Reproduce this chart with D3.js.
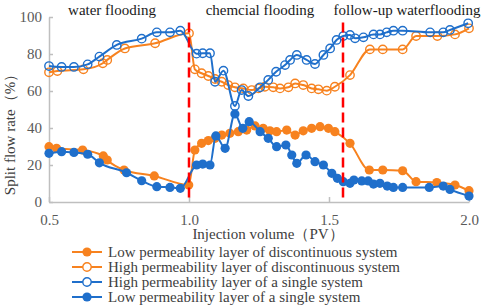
<!DOCTYPE html>
<html><head><meta charset="utf-8">
<script src="https://cdn.jsdelivr.net/npm/d3@7"></script>
<style>body{margin:0;background:#fff}svg{display:block}</style>
</head><body><svg id="c" width="484" height="308"></svg>
<script>
const xTicks=[0.5,1.0,1.5,2.0];
const yTicks=[0,20,40,60,80,100];
const stageLabels=["water flooding","chemcial flooding","follow-up waterflooding"];
const stageBounds=[1.0,1.55];
const seriesNames=["Low permeability layer of discontinuous system","High permeability layer of discontinuous system","High permeability layer of a single system","Low permeability layer of a single system"];

const lowDiscX=[0.5,0.527,0.62,0.694,0.708,0.768,0.876,0.999,1.021,1.045,1.069,1.093,1.117,1.146,1.176,1.206,1.236,1.265,1.289,1.313,1.349,1.379,1.408,1.438,1.468,1.498,1.521,1.575,1.644,1.692,1.763,1.811,1.885,1.95,2.0];
const lowDiscY=[29.9,29,28.1,24.9,22.7,17.3,14.1,9.2,28.1,31.7,33.2,34.4,36.2,37.1,38,38.9,41.1,39.8,38.5,38,38.9,36.2,38.5,39.8,40.7,39.8,38,31.7,17.3,17.3,16.9,11,10.5,9.2,6.1];

const highDiscX=[0.5,0.53,0.623,0.692,0.708,0.771,0.879,1.0,1.021,1.045,1.069,1.093,1.117,1.14,1.164,1.194,1.224,1.248,1.271,1.301,1.325,1.355,1.379,1.408,1.438,1.462,1.492,1.521,1.575,1.646,1.692,1.763,1.811,1.887,1.95,2.0];
const highDiscY=[70.1,70.8,71.7,75,76.8,83,85.8,91.2,71.7,69.6,68.1,66.5,65,63.2,62,61.4,60.5,61.4,62.3,62,61.4,62,64.1,63.2,61.4,60.9,60.2,62.3,68.6,82.5,82.5,82.5,89.7,89.7,90.6,93.9];

const highSingleX=[0.5,0.545,0.589,0.638,0.68,0.742,0.831,0.885,0.932,0.969,1.027,1.049,1.075,1.093,1.123,1.164,1.188,1.212,1.254,1.283,1.311,1.343,1.361,1.385,1.42,1.45,1.48,1.504,1.527,1.551,1.575,1.593,1.623,1.659,1.682,1.706,1.73,1.763,1.861,1.908,1.932,1.997];
const highSingleY=[73.5,73,73,74.4,78.6,84.9,88.3,91.7,91.7,92.6,80.2,80.4,80.4,65,71,51.9,60.5,57.3,62,66,70.4,74,76.8,79.5,76.8,74.6,79.5,83,87.6,89.7,90.3,88.5,89,90.6,90.6,91.7,92.6,92.6,91.7,91.7,93,96.6];

const lowSingleX=[0.5,0.545,0.589,0.638,0.68,0.777,0.831,0.885,0.932,0.969,1.027,1.049,1.075,1.096,1.129,1.164,1.192,1.215,1.254,1.283,1.313,1.346,1.367,1.385,1.418,1.45,1.48,1.51,1.53,1.551,1.575,1.589,1.617,1.64,1.659,1.682,1.708,1.73,1.763,1.858,1.908,1.932,2.0];
const lowSingleY=[26.3,27.2,26.8,25.8,21.2,15.8,11.5,8.3,7.9,7.4,20,20.5,20,35.7,29,47.6,39.8,43.4,38,34.4,29.9,30.8,25.4,20.9,25.4,21.8,20,15.5,12.8,11,10.1,11.9,11.4,11.4,9.7,10.1,8.6,7.9,7.9,7.9,8.6,6.8,3.2];

const FONT="'Liberation Serif','Times New Roman',Times,serif";
const ORANGE="#F7821F", BLUE="#1F6FCB";
const series=[
 {name:seriesNames[0],xs:lowDiscX,ys:lowDiscY,color:ORANGE,filled:true},
 {name:seriesNames[1],xs:highDiscX,ys:highDiscY,color:ORANGE,filled:false},
 {name:seriesNames[2],xs:highSingleX,ys:highSingleY,color:BLUE,filled:false},
 {name:seriesNames[3],xs:lowSingleX,ys:lowSingleY,color:BLUE,filled:true}
];

const svg=d3.select("#c");
svg.append("rect").attr("width",484).attr("height",308).attr("fill","#fff");
const x=d3.scaleLinear().domain([0.5,2.0]).range([49,469]);
const y=d3.scaleLinear().domain([0,100]).range([202,17]);

// axes
const gx=svg.append("g").attr("transform","translate(0,202)")
 .call(d3.axisBottom(x).tickValues(xTicks).tickFormat(d3.format(".1f")).tickSizeInner(-5).tickSizeOuter(0).tickPadding(12));
const gy=svg.append("g").attr("transform","translate(49,0)")
 .call(d3.axisLeft(y).tickValues(yTicks).tickSizeInner(-4).tickSizeOuter(0).tickPadding(7));
[gx,gy].forEach(g=>{
 g.attr("font-family",FONT).attr("font-size",15);
 g.select(".domain").attr("stroke","#bfbfbf").attr("stroke-width",1.5);
 g.selectAll(".tick line").attr("stroke","#bfbfbf").attr("stroke-width",1.5);
 g.selectAll(".tick text").attr("fill","#595959").attr("font-family",FONT).attr("font-size",15);
});

// series
const line=d3.line().curve(d3.curveMonotoneX).x(d=>x(d[0])).y(d=>y(d[1]));
series.forEach(s=>{
 const pts=s.xs.map((v,i)=>[v,s.ys[i]]);
 svg.append("path").datum(pts).attr("d",line).attr("fill","none").attr("stroke",s.color).attr("stroke-width",2);
 svg.append("g").selectAll("circle").data(pts).join("circle")
  .attr("cx",d=>x(d[0])).attr("cy",d=>y(d[1])).attr("r",s.filled?4.6:4.2)
  .attr("fill",s.filled?s.color:"none").attr("stroke",s.color).attr("stroke-width",s.filled?0:1.4);
});

// stage boundaries
stageBounds.forEach(b=>{
 svg.append("line").attr("x1",x(b)).attr("x2",x(b)).attr("y1",y(97)).attr("y2",y(0))
  .attr("stroke","#ff0000").attr("stroke-width",2.5).attr("stroke-dasharray","10,5");
});

// stage labels
const stagePos=[112,260,407];
stageLabels.forEach((t,i)=>{
 svg.append("text").attr("x",stagePos[i]).attr("y",15).attr("text-anchor","middle")
  .attr("fill","#1a1a1a").attr("font-family",FONT).attr("font-size",15).text(t);
});

// axis titles
svg.append("text").attr("x",268).attr("y",239).attr("text-anchor","middle").attr("fill","#404040")
 .attr("font-family",FONT).attr("font-size",15).text("Injection volume（PV）");
svg.append("text").attr("transform","translate(15,131) rotate(-90)").attr("text-anchor","middle").attr("fill","#404040")
 .attr("font-family",FONT).attr("font-size",15).text("Split flow rate（%）");

// legend
const legY=[252,267,282,297];
series.forEach((s,i)=>{
 const g=svg.append("g").attr("transform",`translate(0,${legY[i]})`);
 g.append("line").attr("x1",72).attr("x2",102).attr("y1",0).attr("y2",0).attr("stroke",s.color).attr("stroke-width",2);
 g.append("circle").attr("cx",87).attr("cy",0).attr("r",s.filled?4.6:4.2)
  .attr("fill",s.filled?s.color:"#fff").attr("stroke",s.color).attr("stroke-width",s.filled?0:1.4);
 g.append("text").attr("x",108).attr("y",5).attr("fill","#404040").attr("font-family",FONT).attr("font-size",15).text(s.name);
});
</script></body></html>
